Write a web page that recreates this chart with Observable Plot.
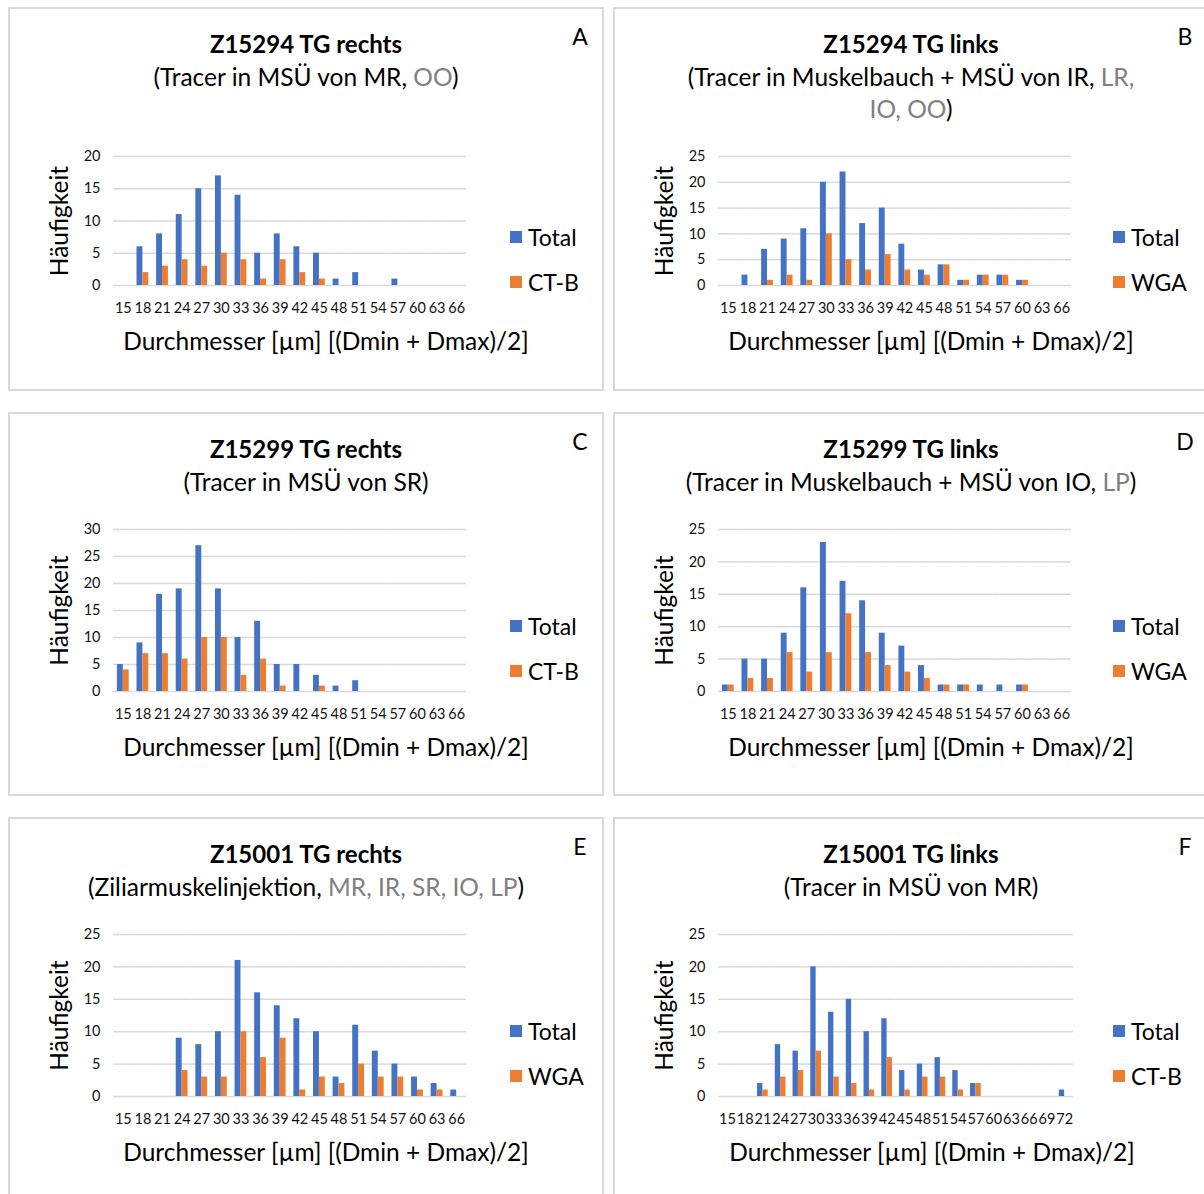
<!DOCTYPE html>
<html>
<head>
<meta charset="utf-8">
<script src="https://cdn.jsdelivr.net/npm/d3@7"></script>
<script src="https://cdn.jsdelivr.net/npm/@observablehq/plot@0.6"></script>
<style>
  html, body { margin: 0; padding: 0; background: #fff; overflow: hidden; }
  #root { position: relative; width: 1204px; height: 1194px; overflow: hidden; font-family: Lato, "Open Sans", sans-serif; color: #000; }
  .panel { position: absolute; width: 596px; height: 384px; }
  .frame { position: absolute; left: 0; top: 0; width: 596px; height: 384px; box-sizing: border-box; border: 2px solid #d9d9d9; }
  .title { position: absolute; left: 0; width: 596px; text-align: center; font-weight: bold; font-size: 24px; line-height: 30px; white-space: nowrap; }
  .sub { position: absolute; left: 0; width: 596px; text-align: center; font-size: 24.5px; line-height: 30px; white-space: nowrap; }
  .gray { color: #808080; }
  .letter { position: absolute; font-size: 23px; line-height: 30px; width: 30px; text-align: center; }
  .chart { position: absolute; }
  .leg { position: absolute; font-size: 23px; line-height: 30px; white-space: nowrap; }
  .sw { position: absolute; width: 12px; height: 12px; top: 9px; left: 0; }
  .lt { position: absolute; left: 18px; top: 0; }
</style>
</head>
<body>
<div id="root"></div>
<script>
// ---- data ----
const categories = [15,18,21,24,27,30,33,36,39,42,45,48,51,54,57,60,63,66];
const categoriesF = [15,18,21,24,27,30,33,36,39,42,45,48,51,54,57,60,63,66,69,72];

const totalA = [0,6,8,11,15,17,14,5,8,6,5,1,2,0,1,0,0,0];
const ctbA   = [0,2,3,4,3,5,4,1,4,2,1,0,0,0,0,0,0,0];
const totalB = [0,2,7,9,11,20,22,12,15,8,3,4,1,2,2,1,0,0];
const wgaB   = [0,0,1,2,1,10,5,3,6,3,2,4,1,2,2,1,0,0];
const totalC = [5,9,18,19,27,19,10,13,5,5,3,1,2,0,0,0,0,0];
const ctbC   = [4,7,7,6,10,10,3,6,1,0,1,0,0,0,0,0,0,0];
const totalD = [1,5,5,9,16,23,17,14,9,7,4,1,1,1,1,1,0,0];
const wgaD   = [1,2,2,6,3,6,12,6,4,3,2,1,1,0,0,1,0,0];
const totalE = [0,0,0,9,8,10,21,16,14,12,10,3,11,7,5,3,2,1];
const wgaE   = [0,0,0,4,3,3,10,6,9,1,3,2,5,3,3,1,1,0];
const totalF = [0,0,2,8,7,20,13,15,10,12,4,5,6,4,2,0,0,0,0,1];
const ctbF   = [0,0,1,3,4,7,3,2,1,6,1,3,3,1,2,0,0,0,0,0];

const yMaxes = {A: 20, B: 25, C: 30, D: 25, E: 25, F: 25};

const panels = [
  {id: "A", col: 0, row: 0, title: "Z15294 TG rechts",
   sub: [[["(Tracer in MSÜ von MR, ", 0], ["OO", 1], [")", 0]]],
   cats: categories, total: totalA, tracer: ctbA, tracerName: "CT-B"},
  {id: "B", col: 1, row: 0, title: "Z15294 TG links",
   sub: [[["(Tracer in Muskelbauch + MSÜ von IR, ", 0], ["LR,", 1]], [["IO, OO", 1], [")", 0]]],
   cats: categories, total: totalB, tracer: wgaB, tracerName: "WGA"},
  {id: "C", col: 0, row: 1, title: "Z15299 TG rechts",
   sub: [[["(Tracer in MSÜ von SR)", 0]]],
   cats: categories, total: totalC, tracer: ctbC, tracerName: "CT-B"},
  {id: "D", col: 1, row: 1, title: "Z15299 TG links",
   sub: [[["(Tracer in Muskelbauch + MSÜ von IO, ", 0], ["LP", 1], [")", 0]]],
   cats: categories, total: totalD, tracer: wgaD, tracerName: "WGA"},
  {id: "E", col: 0, row: 2, title: "Z15001 TG rechts",
   sub: [[["(Ziliarmuskelinjektion, ", 0], ["MR, IR, SR, IO, LP", 1], [")", 0]]],
   cats: categories, total: totalE, tracer: wgaE, tracerName: "WGA"},
  {id: "F", col: 1, row: 2, title: "Z15001 TG links",
   sub: [[["(Tracer in MSÜ von MR)", 0]]],
   cats: categoriesF, total: totalF, tracer: ctbF, tracerName: "CT-B"}
];

const colors = ["#4472C4", "#ED7D31"];
const root = document.getElementById("root");

for (const p of panels) {
  const left = p.col === 0 ? 8 : 613;
  const top = 7 + p.row * 405;
  const panel = document.createElement("div");
  panel.className = "panel";
  panel.style.left = left + "px";
  panel.style.top = top + "px";
  root.appendChild(panel);

  const fr = document.createElement("div"); fr.className = "frame"; panel.appendChild(fr);

  const t = document.createElement("div"); t.className = "title";
  t.style.top = (37 - 15) + "px"; t.textContent = p.title; panel.appendChild(t);

  p.sub.forEach((line, i) => {
    const s = document.createElement("div"); s.className = "sub";
    s.style.top = (70 + i * 32 - 15) + "px";
    for (const [txt, g] of line) {
      const sp = document.createElement("span");
      if (g) sp.className = "gray";
      sp.textContent = txt;
      s.appendChild(sp);
    }
    panel.appendChild(s);
  });

  const L = document.createElement("div"); L.className = "letter";
  L.style.left = (572 - 15) + "px"; L.style.top = (29 - 15) + "px";
  L.textContent = p.id; panel.appendChild(L);

  // chart geometry (panel-relative)
  const frameTop = p.row === 0 ? 149 : 117;
  const frameBottom = p.row === 0 ? 278 : 279;
  const frameLeft = 105, frameRight = p.id === "F" ? 460 : 458;
  const svgLeft = 10, svgRight = 485, svgTop = frameTop - 20, svgBottom = 372;

  const series = ["Total", p.tracerName];
  const data = p.cats.flatMap((c, i) => [
    {cat: c, series: "Total", v: p.total[i]},
    {cat: c, series: p.tracerName, v: p.tracer[i]}
  ]);
  const yMax = yMaxes[p.id];
  const yTicks = d3.range(0, yMax + 1, 5);

  const chart = Plot.plot({
    width: svgRight - svgLeft,
    height: svgBottom - svgTop,
    marginLeft: frameLeft - svgLeft,
    marginRight: svgRight - frameRight,
    marginTop: frameTop - svgTop,
    marginBottom: svgBottom - frameBottom,
    style: {fontFamily: "Lato, 'Open Sans', sans-serif", fontSize: "14.5px", color: "#111", background: "transparent", overflow: "visible"},
    fx: {domain: p.cats, padding: 0, round: false, axis: "bottom", tickSize: 0, tickPadding: 17,
         label: "Durchmesser [µm] [(Dmin + Dmax)/2]", labelAnchor: "center", labelOffset: 64, labelArrow: "none"},
    x: {domain: series, axis: null, round: false, paddingInner: 0, paddingOuter: 0.66},
    y: {domain: [0, yMax], ticks: yTicks, tickSize: 0, tickPadding: 13,
        label: "Häufigkeit", labelAnchor: "center", labelOffset: 63, labelArrow: "none"},
    color: {domain: series, range: colors},
    marks: [
      Plot.ruleY(yTicks, {stroke: "#d9d9d9", strokeWidth: 1.5}),
      Plot.barY(data, {fx: "cat", x: "series", y: "v", fill: "series"})
    ]
  });
  d3.select(chart).selectAll("text").each(function () {
    const s = this.textContent;
    if (s.includes("Häufigkeit") || s.includes("Durchmesser")) {
      this.style.fontSize = "24.5px";
      this.style.fill = "#000";
    }
    if (s.includes("Durchmesser")) {
      const tr = this.getAttribute("transform") || "";
      this.setAttribute("transform", tr + " translate(36,0)");
    }
  });
  chart.classList.add("chart");
  chart.style.left = svgLeft + "px";
  chart.style.top = svgTop + "px";
  chart.style.position = "absolute";
  panel.appendChild(chart);

  // legend
  const legCenter = (frameTop + frameBottom) / 2 + 38;
  series.forEach((name, i) => {
    const lg = document.createElement("div"); lg.className = "leg";
    lg.style.left = (p.col === 0 ? 502 : 500) + "px";
    lg.style.top = (legCenter - 22 + i * 45 - 15) + "px";
    const sw = document.createElement("div"); sw.className = "sw"; sw.style.background = colors[i];
    const tx = document.createElement("div"); tx.className = "lt"; tx.textContent = name;
    lg.appendChild(sw); lg.appendChild(tx);
    panel.appendChild(lg);
  });
}
</script>
</body>
</html>
